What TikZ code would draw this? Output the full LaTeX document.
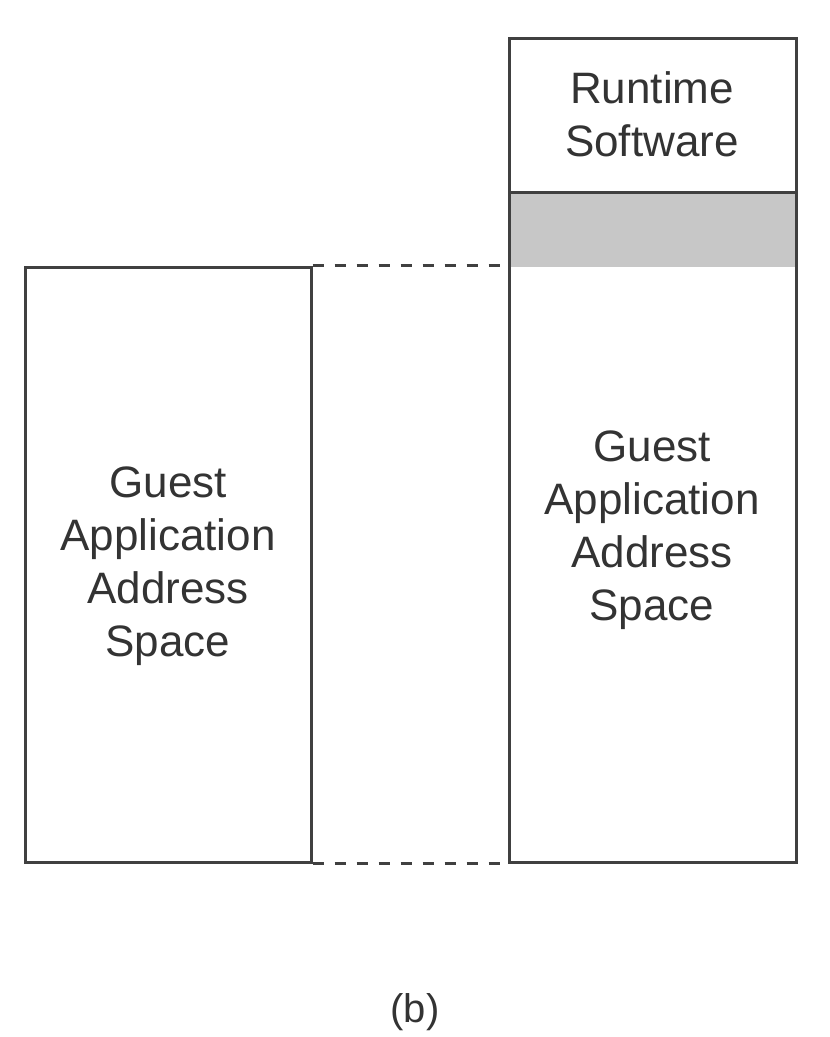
\documentclass[tikz,border=0pt]{standalone}
\usepackage{fontspec}
\setmainfont{Liberation Sans}
\begin{document}
\begin{tikzpicture}[x=1pt,y=-1pt,
  boxline/.style={draw=black!75,line width=3pt},
  dashline/.style={draw=black!75,line width=3pt,dash pattern=on 11pt off 11pt},
  lbl/.style={text=black!80,font=\fontsize{44}{53}\selectfont,align=center}]
\useasboundingbox (0,0) rectangle (830,1037);
% left box
\node[boxline,minimum width=286pt,minimum height=595pt,inner sep=0pt] (L) at (168,564.5) {};
\node[lbl] (Lt) at (168,566) {Guest\\Application\\Address\\Space};
% right column
\fill[black!22] (509,192) rectangle (796,267);
\node[boxline,minimum width=287pt,minimum height=154pt,inner sep=0pt] (R1) at (652.5,115) {};
\node[boxline,minimum width=287pt,minimum height=670pt,inner sep=0pt] (R2) at (652.5,527) {};
\node[lbl] (Rt) at (652,114) {Runtime\\Software};
\node[lbl] (Gt) at (652,530) {Guest\\Application\\Address\\Space};
% dashed connectors
\draw[dashline] (L.north east) -- (L.north east -| R2.west);
\draw[dashline] (L.south east) -- (R2.south west);
\node[text=black!80,font=\fontsize{40}{48}\selectfont] (b) at (415,1012) {(b)};
\end{tikzpicture}
\end{document}
